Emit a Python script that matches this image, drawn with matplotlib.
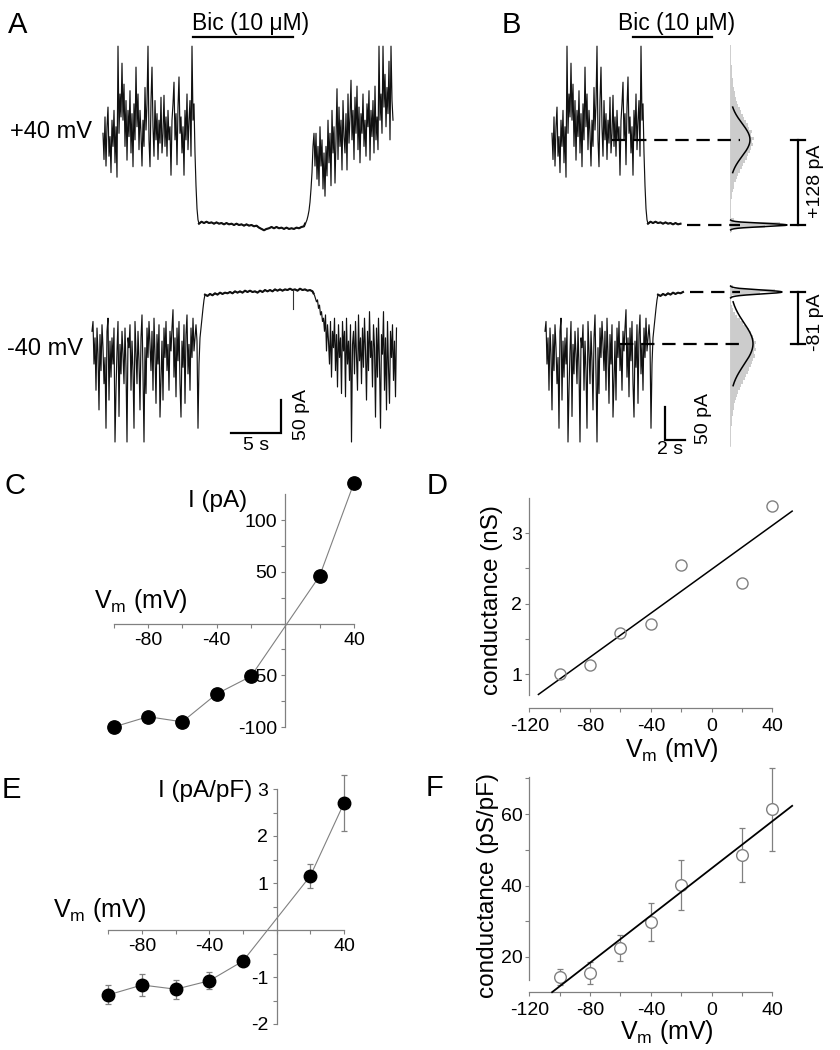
import numpy as np
import matplotlib
matplotlib.use('Agg')
import matplotlib.pyplot as plt
from matplotlib.ticker import FixedLocator, FuncFormatter

plt.rcParams['font.family'] = ['Liberation Sans', 'DejaVu Sans']
plt.rcParams['axes.unicode_minus'] = False
plt.rcParams['mathtext.fontset'] = 'custom'
plt.rcParams['mathtext.rm'] = 'Liberation Sans'
plt.rcParams['mathtext.default'] = 'regular'

# ---------------- data ----------------
# whole-cell current traces (pA, relative to the bicuculline level), 0.1 s / 0.25 s sampling
top_pre = [140, 100, 165, 90, 150, 180, 105, 135, 80, 160,
           120, 175, 95, 150, 73, 273, 140, 200, 165, 247,
           160, 215, 120, 190, 99, 175, 135, 205, 110, 170,
           89, 185, 130, 241, 150, 200, 115, 175, 140, 90,
           160, 120, 210, 145, 185, 273, 130, 89, 190, 241,
           150, 105, 190, 130, 170, 100, 160, 125, 195, 110,
           140, 198, 120, 165, 105, 175, 130, 150, 76, 160,
           185, 218, 130, 170, 92, 180, 226, 140, 165, 110,
           150, 76, 175, 130, 200, 115, 160, 190, 105, 273,
           160, 185, 110, 60, 25, 8, 2]
top_block = [5, 3, 5, 3, 4, 2, 4, 2, 3, 1, 3, 1, 2, 0, 2, 0, 1, -1, 1, -1,
             0, -2, -1, -4, -6, -8, -6, -5, -3, -5, -3, -5, -4, -6, -4, -6, -5, -6, -4, -5,
             -3, -2]
top_post = [2, 4, 8, 14, 22, 35, 55, 80, 120, 140, 90,
            140, 70, 120, 60, 150, 90, 130, 55, 110, 44,
            120, 75, 160, 95, 140, 60, 175, 110, 150, 64,
            130, 208, 100, 180, 120, 160, 84, 190, 135, 110,
            170, 84, 200, 125, 165, 221, 130, 175, 100, 195,
            140, 212, 115, 180, 95, 170, 140, 200, 120, 160,
            105, 185, 150, 205, 99, 175, 135, 190, 110, 212,
            130, 165, 115, 273, 160, 200, 140, 273, 180, 230,
            150, 210, 170, 250, 130, 273, 190, 160]

bot_pre = [-60, -45, -110, -70, -150, -55, -95, -180, -65, -120,
           -50, -85, -140, -100, -208, -60, -40, -165, -75, -130,
           -70, -110, -55, -229, -150, -90, -45, -190, -80, -125,
           -60, -95, -140, -55, -115, -229, -70, -85, -50, -150,
           -75, -120, -208, -45, -90, -140, -60, -105, -180, -70,
           -35, -125, -229, -85, -155, -55, -100, -45, -80, -120,
           -60, -150, -40, -95, -170, -65, -110, -50, -191, -135,
           -75, -165, -55, -100, -45, -120, -80, -150, -60, -90,
           -55, -27, -130, -70, -160, -55, -105, -45, -140, -191,
           -75, -115, -50, -170, -65, -35, -125, -80, -150, -55,
           -100, -40, -90, -70, -50, -75, -208, -110, -70, -55,
           -40, -25, -12, -4]
bot_block = [-6, -3, -5, -2, -4, -1, -3, -1, -2, 0, -2, 1, -1, 1, -1, 2, 0, 2, 0, 1,
             -1, 2, 0, 3, 1, 3, 1, 4, 2, 4, 2, 4, 3, 5, 3, 4, 2, 5, 3, 4,
             2, 3, 1]
bot_block_event = (8.5, -26)   # brief inward event during block: time into block (s), amplitude (pA)
bot_post = [-2, -5, -10, -15, -12, -25, -20, -35, -30, -45, -40,
            -60, -35, -90, -50, -75, -110, -45, -130, -60, -85,
            -40, -120, -65, -145, -50, -100, -70, -155, -45, -90,
            -60, -160, -40, -110, -75, -135, -50, -229, -80, -60,
            -125, -45, -95, -150, -35, -105, -70, -140, -55, -115,
            -40, -90, -165, -60, -120, -30, -100, -75, -145, -50,
            -85, -191, -55, -130, -40, -110, -208, -65, -95, -30,
            -150, -70, -180, -45, -115, -170, -60, -100, -50, -135,
            -75, -160, -55]

# all-points histograms (counts) and gaussian fits (amp, mean pA, sd pA)
hist_top_edges = list(range(-10, 280, 5))
hist_top = [1.5, 35, 50, 4, 1, 0.5, 0.5, 0.8, 1, 1.2,
            1.5, 2, 2.5, 3.5, 4, 5.5, 7, 8, 10, 12,
            13, 15, 17, 18, 20, 21, 23, 22, 24, 21,
            22, 19, 18, 16, 14, 13, 11, 10, 8, 7,
            6, 5, 4.5, 4, 3, 3, 2.5, 2, 2, 1.5,
            1.5, 1, 1, 0.8, 0.8, 0.5, 0.5]
hist_bot_edges = list(range(-235, 15, 5))
hist_bot = [0.5, 0.8, 0.8, 1, 1, 1.2, 1.5, 1.5, 2,
            2.5, 3, 3.5, 4, 5, 6, 7, 8, 10,
            11, 13, 15, 16, 18, 19, 21, 22, 23,
            25, 24, 26, 25, 26, 24, 23, 21, 19,
            16, 13, 10, 7, 5, 3, 2, 1, 0.8,
            1.5, 30, 45, 3]
fit_top_broad = (20, 130, 25)
fit_top_narrow = (57, 0, 2.5)
fit_bot_broad = (23, -79, 32)
fit_bot_narrow = (52, 0, 3)

# I-V and conductance data
vm = [-100, -80, -60, -40, -20, 20, 40]
i_pa = [-100, -90, -95, -68, -51, 46, 136]
g_ns = [1.0, 1.13, 1.58, 1.71, 2.55, 2.29, 3.38]
g_ns_fit = (0.01557, 2.485, -114, 53)       # slope, intercept, V range
i_dens = [-1.38, -1.17, -1.26, -1.08, -0.66, 1.15, 2.7]
i_dens_err = [0.2, 0.23, 0.2, 0.18, 0.1, 0.25, 0.6]
g_dens = [14.4, 15.5, 22.5, 29.8, 40.2, 48.5, 61.3]
g_dens_err = [2.2, 3.0, 3.7, 5.3, 7.0, 7.5, 11.7]
g_dens_fit = (0.33, 44.8, -105, 53)

# ---------------- figure ----------------
W, H = 840, 1050
PX_S = 10.0      # px per second
PX_PA = 0.655    # px per pA
GRAY = '#808080'

fig = plt.figure(figsize=(W / 100, H / 100), dpi=100)


def px_axes(x0, y0, x1, y1):
    return fig.add_axes([x0 / W, 1 - y1 / H, (x1 - x0) / W, (y1 - y0) / H])


def ftext(x, y, s, **kw):
    fig.text(x / W, 1 - y / H, s, **kw)


def build(segments):
    t, y = [], []
    for vals, dt in segments:
        t0 = t[-1] + dt if t else 0.0
        for k, v in enumerate(vals):
            t.append(t0 + k * dt)
            y.append(v)
    return np.array(t), np.array(y)


def xs(px):
    return px / PX_S


def yl(px):
    return -px / PX_PA


# ---- panels A and B (traces) ----
axT = px_axes(0, 0, W, 460)
axT.set_xlim(0, W / PX_S)
axT.set_ylim(-460 / PX_PA, 0)
axT.axis('off')

t_top, y_top = build([(top_pre, 0.1), (top_block, 0.25), (top_post, 0.1)])
t_bot, y_bot = build([(bot_pre, 0.1), (bot_block, 0.25), (bot_post, 0.1)])
blk_top = slice(len(top_pre) - 1, len(top_pre) + len(top_block) + 1)
blk_bot = slice(len(bot_pre) - 1, len(bot_pre) + len(bot_block) + 1)
ev_t = t_bot[len(bot_pre)] + bot_block_event[0]
lev_top, lev_bot = yl(225), yl(292)
tr = dict(color='#111111', lw=0.85)
thick = dict(color='#111111', lw=1.5)

for x0, tmax_top, tmax_bot in [(0, None, None), (1, 13.1, 13.8)]:
    ox_top = xs(103) if x0 == 0 else xs(552)
    ox_bot = xs(92) if x0 == 0 else xs(545)
    mt = np.ones(len(t_top), bool) if tmax_top is None else t_top <= tmax_top
    mb = np.ones(len(t_bot), bool) if tmax_bot is None else t_bot <= tmax_bot
    axT.plot(ox_top + t_top[mt], lev_top + y_top[mt], **tr)
    axT.plot(ox_bot + t_bot[mb], lev_bot + y_bot[mb], **tr)
    tt, yy = t_top[blk_top], y_top[blk_top]
    mm = np.ones(len(tt), bool) if tmax_top is None else tt <= tmax_top
    axT.plot(ox_top + tt[mm], lev_top + yy[mm], **thick)
    tt, yy = t_bot[blk_bot], y_bot[blk_bot]
    mm = np.ones(len(tt), bool) if tmax_bot is None else tt <= tmax_bot
    axT.plot(ox_bot + tt[mm], lev_bot + yy[mm], **thick)
    if tmax_bot is None:
        axT.plot([ox_bot + ev_t] * 2, [lev_bot + 3, lev_bot + bot_block_event[1]],
                 color='#333333', lw=0.8)

# drug bars
axT.plot([xs(193), xs(293)], [yl(37)] * 2, color='k', lw=1.6)
axT.plot([xs(633), xs(712)], [yl(37)] * 2, color='k', lw=1.6)

# scale bars
axT.plot([xs(231), xs(231) + 5, xs(231) + 5], [yl(433), yl(433), yl(433) + 50],
         color='k', lw=1.6, solid_joinstyle='miter')
axT.plot([xs(665), xs(665), xs(665) + 2], [yl(440) + 50, yl(440), yl(440)],
         color='k', lw=1.6, solid_joinstyle='miter')

# histograms + gaussian fits
hx = xs(730)
for lev, edges, counts, fits in [(lev_top, hist_top_edges, hist_top, [fit_top_broad, fit_top_narrow]),
                                 (lev_bot, hist_bot_edges, hist_bot, [fit_bot_broad, fit_bot_narrow])]:
    ye = lev + np.array(edges, dtype=float)
    cx = np.append(counts, counts[-1]) / PX_S
    axT.fill_betweenx(ye, hx, hx + cx, step='post', color='#cccccc', lw=0)
    axT.plot([hx, hx], [ye[0], ye[-1]], color='#d0d0d0', lw=0.6)
    for amp, mu, sd in fits:
        k = 2.0 if sd > 10 else 3.0
        yy = np.linspace(mu - k * sd, mu + k * sd, 200)
        gx = amp * np.exp(-0.5 * ((yy - mu) / sd) ** 2)
        axT.plot(hx + gx / PX_S, lev + yy, color='k', lw=1.1)

# dashed levels and brackets
dash = dict(color='k', lw=1.6, linestyle=(0, (6, 3.5)))
axT.plot([xs(612), xs(740)], [lev_top + fit_top_broad[1]] * 2, **dash)
axT.plot([xs(687), xs(740)], [lev_top + fit_top_narrow[1]] * 2, **dash)
axT.plot([xs(690), xs(740)], [lev_bot + fit_bot_narrow[1]] * 2, **dash)
axT.plot([xs(620), xs(740)], [lev_bot + fit_bot_broad[1]] * 2, **dash)
for lev, a, b in [(lev_top, fit_top_narrow[1], fit_top_broad[1]),
                  (lev_bot, fit_bot_broad[1], fit_bot_narrow[1])]:
    axT.plot([xs(798), xs(798)], [lev + a, lev + b], color='k', lw=1.6)
    for v in (a, b):
        axT.plot([xs(791), xs(805)], [lev + v] * 2, color='k', lw=1.6)

# texts of top half
ftext(8, 33, 'A', fontsize=21, va='baseline')
ftext(502, 33, 'B', fontsize=21, va='baseline')
ftext(251, 30, 'Bic (10 \u03bcM)', fontsize=16.5, ha='center', va='baseline')
ftext(677, 30, 'Bic (10 \u03bcM)', fontsize=16.5, ha='center', va='baseline')
ftext(10, 138, '+40 mV', fontsize=17, va='baseline')
ftext(7, 355, '-40 mV', fontsize=17, va='baseline')
ftext(256, 446, '5 s', fontsize=14, ha='center', va='center')
ftext(301, 415, '50 pA', fontsize=14, ha='center', va='center', rotation=90)
ftext(670, 450, '2 s', fontsize=14, ha='center', va='center')
ftext(703, 418, '50 pA', fontsize=14, ha='center', va='center', rotation=90)
ftext(815, 181, '+128 pA', fontsize=14, ha='center', va='center', rotation=90)
ftext(815, 322, '-81 pA', fontsize=14, ha='center', va='center', rotation=90)

# ---- helpers for bottom panels ----
zero_blank = FuncFormatter(lambda v, p: '' if abs(v) < 1e-9 else '%g' % v)


def cross_style(ax, xb, yb, ymaj, ymin):
    for s in ['top', 'right']:
        ax.spines[s].set_visible(False)
    ax.spines['left'].set_position(('data', 0))
    ax.spines['bottom'].set_position(('data', 0))
    ax.spines['left'].set_bounds(*yb)
    ax.spines['bottom'].set_bounds(*xb)
    for s in ['left', 'bottom']:
        ax.spines[s].set_color(GRAY)
        ax.spines[s].set_linewidth(0.9)
    ax.xaxis.set_major_locator(FixedLocator([-80, -40, 0, 40]))
    ax.xaxis.set_minor_locator(FixedLocator([-100, -60, -20, 20]))
    ax.yaxis.set_major_locator(FixedLocator(ymaj))
    ax.yaxis.set_minor_locator(FixedLocator(ymin))
    ax.xaxis.set_major_formatter(zero_blank)
    ax.yaxis.set_major_formatter(zero_blank)
    ax.tick_params(which='both', direction='out', length=3, width=0.8, color=GRAY, labelsize=14)
    ax.tick_params(axis='x', pad=3)
    ax.tick_params(axis='y', pad=3)
    ax.patch.set_visible(False)


def box_style(ax, yb, ymaj, ymin):
    for s in ['top', 'right']:
        ax.spines[s].set_visible(False)
    ax.spines['left'].set_bounds(*yb)
    ax.spines['bottom'].set_bounds(-120, 40)
    for s in ['left', 'bottom']:
        ax.spines[s].set_color(GRAY)
        ax.spines[s].set_linewidth(0.9)
    ax.xaxis.set_major_locator(FixedLocator([-120, -80, -40, 0, 40]))
    ax.xaxis.set_minor_locator(FixedLocator([-100, -60, -20, 20]))
    ax.yaxis.set_major_locator(FixedLocator(ymaj))
    ax.yaxis.set_minor_locator(FixedLocator(ymin))
    ax.xaxis.set_major_formatter(FuncFormatter(lambda v, p: '%g' % v))
    ax.tick_params(which='both', direction='out', length=3, width=0.8, color=GRAY, labelsize=14)
    ax.tick_params(axis='x', pad=4)
    ax.tick_params(axis='y', pad=2)
    ax.patch.set_visible(False)


vlabel = r'V$_{m}$ (mV)'

# ---- C ----
axC = px_axes(105.0, 478.6, 362.6, 732.2)
axC.set_xlim(-105, 45)
axC.set_ylim(-105, 140)
cross_style(axC, (-100, 40), (-100, 125), [-100, -50, 0, 50, 100], [-75, -25, 25, 75])
axC.plot(vm, i_pa, color=GRAY, lw=0.8, zorder=3, clip_on=False)
axC.plot(vm, i_pa, 'o', color='k', ms=9.6, zorder=4, clip_on=False)
ftext(4, 494, 'C', fontsize=21, va='baseline')
ftext(247, 501, 'I (pA)', fontsize=17.5, ha='right', va='center')
ftext(94, 608, vlabel, fontsize=18, va='baseline')

# ---- D ----
axD = px_axes(529.3, 497.75, 796.7, 708)
axD.set_xlim(-120, 56)
axD.set_ylim(0.518, 3.5)
box_style(axD, (0.7, 3.5), [1, 2, 3], [1.5, 2.5])
xf = np.array(g_ns_fit[2:])
axD.plot(xf, g_ns_fit[0] * xf + g_ns_fit[1], color='k', lw=1.1, zorder=3, clip_on=False)
axD.plot(vm, g_ns, 'o', mfc='none', mec=GRAY, mew=1.0, ms=8, zorder=4, clip_on=False)
ftext(427, 494, 'D', fontsize=21, va='baseline')
ftext(492, 600, 'conductance (nS)', fontsize=17.5, ha='center', va='center', rotation=90)
ftext(625, 757, vlabel, fontsize=18, va='baseline')

# ---- E ----
axE = px_axes(100.0, 765.5, 352.4, 1033.4)
axE.set_xlim(-105, 45)
axE.set_ylim(-2.2, 3.5)
cross_style(axE, (-100, 40), (-2, 3), [-2, -1, 0, 1, 2, 3], [-1.5, -0.5, 0.5, 1.5, 2.5])
axE.errorbar(vm, i_dens, yerr=i_dens_err, fmt='none', ecolor=GRAY, elinewidth=0.9,
             capsize=2, capthick=0.9, zorder=3, clip_on=False)
axE.plot(vm, i_dens, color=GRAY, lw=0.8, zorder=3, clip_on=False)
axE.plot(vm, i_dens, 'o', color='k', ms=9.0, zorder=4, clip_on=False)
ftext(2, 798, 'E', fontsize=21, va='baseline')
ftext(252, 791, 'I (pA/pF)', fontsize=17.5, ha='right', va='center')
ftext(53, 917, vlabel, fontsize=18, va='baseline')

# ---- F ----
axF = px_axes(529.3, 776.5, 796.7, 992)
axF.set_xlim(-120, 56)
axF.set_ylim(10.2, 70.5)
box_style(axF, (13.6, 70.5), [20, 40, 60], [30, 50, 70])
axF.errorbar(vm, g_dens, yerr=g_dens_err, fmt='none', ecolor=GRAY, elinewidth=0.9,
             capsize=2, capthick=0.9, zorder=2, clip_on=False)
axF.plot(vm, g_dens, 'o', mfc='white', mec=GRAY, mew=1.0, ms=8.4, zorder=3, clip_on=False)
xf = np.array(g_dens_fit[2:])
axF.plot(xf, g_dens_fit[0] * xf + g_dens_fit[1], color='k', lw=1.3, zorder=4, clip_on=False)
ftext(426, 796, 'F', fontsize=21, va='baseline')
ftext(488, 886, 'conductance (pS/pF)', fontsize=17.5, ha='center', va='center', rotation=90)
ftext(620, 1039, vlabel, fontsize=18, va='baseline')

fig.savefig('out.png', dpi=100)
